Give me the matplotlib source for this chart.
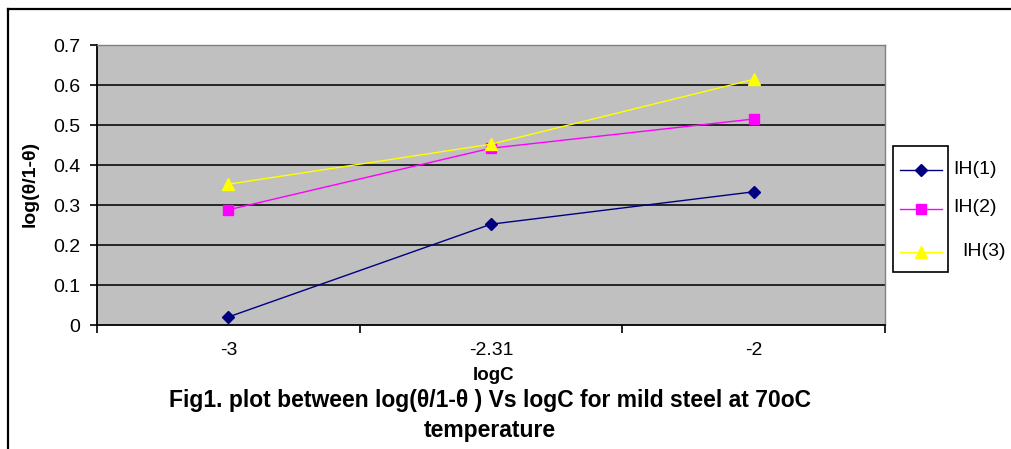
import matplotlib
matplotlib.use("Agg")
import matplotlib.pyplot as plt
from matplotlib.lines import Line2D
from matplotlib.patches import Rectangle

categories = ["-3", "-2.31", "-2"]
series_names = ["IH(1)", "IH(2)", "IH(3)"]
ih1 = [0.020, 0.252, 0.333]
ih2 = [0.288, 0.442, 0.515]
ih3 = [0.352, 0.452, 0.614]
y_ticks = [0, 0.1, 0.2, 0.3, 0.4, 0.5, 0.6, 0.7]
y_tick_labels = ["0", "0.1", "0.2", "0.3", "0.4", "0.5", "0.6", "0.7"]

plt.rcParams['font.family'] = ['Liberation Sans', 'DejaVu Sans']

W, H = 1012, 449
fig = plt.figure(figsize=(W / 100, H / 100), dpi=100)

def fx(px):
    return px / W

def fy(py):
    return 1 - py / H

# outer chart border (left and top only visible)
fig.add_artist(Line2D([fx(8), fx(8)], [fy(9), 0], color='black', lw=1.6))
fig.add_artist(Line2D([fx(8), 1], [fy(9), fy(9)], color='black', lw=1.6))

ax = fig.add_axes([fx(97), fy(325), fx(885) - fx(97), fy(45) - fy(325)])
ax.set_facecolor('#C0C0C0')

x = list(range(len(categories)))
styles = [
    dict(color='#000080', marker='D', markersize=6.5),
    dict(color='#FF00FF', marker='s', markersize=6.5),
    dict(color='#FFFF00', marker='^', markersize=8),
]
data = [ih1, ih2, ih3]
for vals, st, name in zip(data, styles, series_names):
    ax.plot(x, vals, lw=1.0, label=name, zorder=3, **st)

ax.set_ylim(0, 0.7)
ax.set_yticks(y_ticks)
ax.set_yticklabels(y_tick_labels)
for yv in y_ticks[1:]:
    ax.axhline(yv, color='#1a1a1a', lw=1.3, zorder=1)

ax.set_xlim(-0.5, len(categories) - 0.5)
ax.set_xticks([i - 0.5 for i in range(len(categories) + 1)])
ax.set_xticklabels([])
ax.set_xticks(x, minor=True)
ax.set_xticklabels(categories, minor=True)
ax.tick_params(axis='x', which='major', length=6, width=1.2, direction='out', color='black')
ax.tick_params(axis='x', which='minor', length=0, pad=12, labelsize=14)
ax.tick_params(axis='y', length=5, width=1.2, direction='out', pad=7, labelsize=14)

for side in ['left', 'bottom']:
    ax.spines[side].set_color('black')
    ax.spines[side].set_linewidth(1.3)
for side in ['top', 'right']:
    ax.spines[side].set_color('#808080')
    ax.spines[side].set_linewidth(1.0)

# axis titles
fig.text(fx(30), fy(184), "log(θ/1-θ)", rotation=90, ha='center', va='center',
         fontsize=14, fontweight='bold')
fig.text(fx(494), fy(375), "logC", ha='center', va='center', fontsize=13.5, fontweight='bold')
fig.text(fx(490), fy(400), "Fig1. plot between log(θ/1-θ ) Vs logC for mild steel at 70oC",
         ha='center', va='center', fontsize=16.5, fontweight='bold')
fig.text(fx(490), fy(430), "temperature", ha='center', va='center', fontsize=16.5, fontweight='bold')

# legend (drawn manually, text overflows the frame as in reference)
fig.add_artist(Rectangle((fx(893), fy(272)), fx(948) - fx(893), fy(146) - fy(272),
                         fill=False, edgecolor='black', lw=1.2, transform=fig.transFigure))
leg_y = [170, 209, 252]
leg_tx = [953, 953, 962]
for name, st, ly, tx in zip(series_names, styles, leg_y, leg_tx):
    fig.add_artist(Line2D([fx(900), fx(921), fx(942)], [fy(ly)] * 3, lw=1.0,
                          markevery=[1], **st))
    fig.text(fx(tx), fy(ly - 1), name, ha='left', va='center', fontsize=14)

fig.savefig("out.png", dpi=100)
